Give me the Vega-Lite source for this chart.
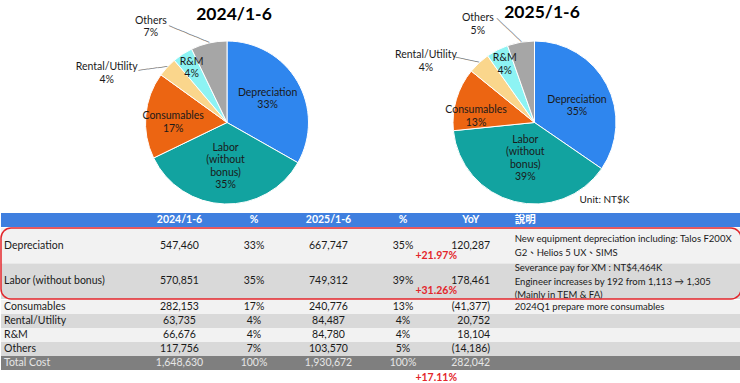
{
  "$schema": "https://vega.github.io/schema/vega-lite/v6.json",
  "padding": {"left": 0, "top": 3, "right": 0, "bottom": 0},
  "config": {"font": "Lato", "view": {"stroke": null}, "axis": {"disable": true}, "concat": {"spacing": 0}},
  "datasets": {
    "costs": [
      {"item": "Depreciation", "v24": 547460, "p24": 0.33, "v25": 667747, "p25": 0.35, "yoy": 120287, "yoyPct": 0.2197, "label24": "Depreciation\n33%", "label25": "Depreciation\n35%", "note": "New equipment depreciation including: Talos F200X\nG2、Helios 5 UX、SIMS"},
      {"item": "Labor (without bonus)", "v24": 570851, "p24": 0.35, "v25": 749312, "p25": 0.39, "yoy": 178461, "yoyPct": 0.3126, "label24": "Labor\n(without\nbonus)\n35%", "label25": "Labor\n(without\nbonus)\n39%", "note": "Severance pay for XM : NT$4,464K\nEngineer increases by 192 from 1,113 → 1,305\n(Mainly in TEM & FA)"},
      {"item": "Consumables", "v24": 282153, "p24": 0.17, "v25": 240776, "p25": 0.13, "yoy": -41377, "yoyPct": null, "label24": "Consumables\n17%", "label25": "Consumables\n13%", "note": "2024Q1 prepare more consumables"},
      {"item": "Rental/Utility", "v24": 63735, "p24": 0.04, "v25": 84487, "p25": 0.04, "yoy": 20752, "yoyPct": null, "label24": "Rental/Utility\n4%", "label25": "Rental/Utility\n4%", "note": ""},
      {"item": "R&M", "v24": 66676, "p24": 0.04, "v25": 84780, "p25": 0.04, "yoy": 18104, "yoyPct": null, "label24": "R&M\n4%", "label25": "R&M\n4%", "note": ""},
      {"item": "Others", "v24": 117756, "p24": 0.07, "v25": 103570, "p25": 0.05, "yoy": -14186, "yoyPct": null, "label24": "Others\n7%", "label25": "Others\n5%", "note": ""},
      {"item": "Total Cost", "v24": 1648630, "p24": 1, "v25": 1930672, "p25": 1, "yoy": 282042, "yoyPct": 0.1711, "label24": "", "label25": "", "note": ""}
    ]
  },
  "spacing": 3,
  "vconcat": [
    {
      "spacing": 0,
      "bounds": "flush",
      "hconcat": [
        {
          "width": 452, "height": 163,
          "title": {"text": "2024/1-6", "fontSize": 17.5, "fontWeight": "bold", "font": "Lato", "color": "#000000", "dx": 7, "offset": -8},
          "layer": [
            {
              "data": {"name": "costs"},
              "transform": [{"window": [{"op": "row_number", "as": "rank"}]}, {"filter": "datum.item !== 'Total Cost'"}],
              "encoding": {
                "theta": {"field": "v24", "type": "quantitative", "stack": true},
                "order": {"field": "rank", "type": "quantitative"},
                "color": {"field": "item", "type": "nominal", "scale": {"domain": ["Depreciation", "Labor (without bonus)", "Consumables", "Rental/Utility", "R&M", "Others"], "range": ["#2F86EE", "#12A3A0", "#EC6512", "#FAD68C", "#8DF3F3", "#A6A6A6"]}, "legend": null}
              },
              "layer": [
                {"mark": {"type": "arc", "stroke": "#ffffff", "strokeWidth": 1}},
                {"mark": {"type": "text", "radius": 47, "dy": -6.25, "fontSize": 10.5, "lineBreak": "\n", "lineHeight": 12.5, "baseline": "middle"},
                 "encoding": {"color": {"condition": {"test": "true", "value": "#1a1a1a"}, "field": "item", "type": "nominal", "legend": null},
                              "text": {"condition": {"test": "datum.item === 'Depreciation'", "field": "label24", "type": "nominal"}, "value": ""}}},
                {"mark": {"type": "text", "radius": 44, "dy": -18.75, "fontSize": 10.5, "lineBreak": "\n", "lineHeight": 12.5, "baseline": "middle"},
                 "encoding": {"color": {"condition": {"test": "true", "value": "#1a1a1a"}, "field": "item", "type": "nominal", "legend": null},
                              "text": {"condition": {"test": "datum.item === 'Labor (without bonus)'", "field": "label24", "type": "nominal"}, "value": ""}}},
                {"mark": {"type": "text", "radius": 54, "dy": -1.5, "fontSize": 10.5, "lineBreak": "\n", "lineHeight": 12.5, "baseline": "middle"},
                 "encoding": {"color": {"condition": {"test": "true", "value": "#1a1a1a"}, "field": "item", "type": "nominal", "legend": null},
                              "text": {"condition": {"test": "datum.item === 'Consumables'", "field": "label24", "type": "nominal"}, "value": ""}}},
                {"mark": {"type": "text", "radius": 65, "dy": -6.25, "fontSize": 10.5, "lineBreak": "\n", "lineHeight": 12.5, "baseline": "middle"},
                 "encoding": {"color": {"condition": {"test": "true", "value": "#1a1a1a"}, "field": "item", "type": "nominal", "legend": null},
                              "text": {"condition": {"test": "datum.item === 'R&M'", "field": "label24", "type": "nominal"}, "value": ""}}},
                {"mark": {"type": "text", "radius": 81.5, "dx": -58, "dy": -22.25, "fontSize": 10.5, "lineBreak": "\n", "lineHeight": 12.5, "baseline": "middle"},
                 "encoding": {"color": {"condition": {"test": "true", "value": "#1a1a1a"}, "field": "item", "type": "nominal", "legend": null},
                              "text": {"condition": {"test": "datum.item === 'Others'", "field": "label24", "type": "nominal"}, "value": ""}}},
                {"mark": {"type": "text", "radius": 81.5, "dx": -60.5, "dy": 0.25, "fontSize": 10.5, "lineBreak": "\n", "lineHeight": 12.5, "baseline": "middle"},
                 "encoding": {"color": {"condition": {"test": "true", "value": "#1a1a1a"}, "field": "item", "type": "nominal", "legend": null},
                              "text": {"condition": {"test": "datum.item === 'Rental/Utility'", "field": "label24", "type": "nominal"}, "value": ""}}},
                {"mark": {"type": "text", "radius": 81.5, "angle": 22.5, "align": "right", "baseline": "middle", "font": "DejaVu Sans", "fontSize": 8},
                 "encoding": {"color": {"condition": {"test": "true", "value": "#808080"}, "field": "item", "type": "nominal", "legend": null},
                              "text": {"condition": {"test": "datum.item === 'Others'", "value": "─────────"}, "value": ""}}},
                {"mark": {"type": "text", "radius": 81.5, "angle": -7.6, "align": "right", "baseline": "middle", "font": "DejaVu Sans", "fontSize": 8},
                 "encoding": {"color": {"condition": {"test": "true", "value": "#808080"}, "field": "item", "type": "nominal", "legend": null},
                              "text": {"condition": {"test": "datum.item === 'Rental/Utility'", "value": "──────"}, "value": ""}}}
              ]
            }
          ]
        },
        {
          "width": 163, "height": 163,
          "title": {"text": "2025/1-6", "fontSize": 17.5, "fontWeight": "bold", "font": "Lato", "color": "#000000", "dx": 7.5, "offset": -8},
          "layer": [
            {
              "data": {"name": "costs"},
              "transform": [{"window": [{"op": "row_number", "as": "rank"}]}, {"filter": "datum.item !== 'Total Cost'"}],
              "encoding": {
                "theta": {"field": "v25", "type": "quantitative", "stack": true},
                "order": {"field": "rank", "type": "quantitative"},
                "color": {"field": "item", "type": "nominal", "scale": {"domain": ["Depreciation", "Labor (without bonus)", "Consumables", "Rental/Utility", "R&M", "Others"], "range": ["#2F86EE", "#12A3A0", "#EC6512", "#FAD68C", "#8DF3F3", "#A6A6A6"]}, "legend": null}
              },
              "layer": [
                {"mark": {"type": "arc", "stroke": "#ffffff", "strokeWidth": 1}},
                {"mark": {"type": "text", "radius": 48, "dy": -0.5, "fontSize": 10.5, "lineBreak": "\n", "lineHeight": 12.5, "baseline": "middle"},
                 "encoding": {"color": {"condition": {"test": "true", "value": "#1a1a1a"}, "field": "item", "type": "nominal", "legend": null},
                              "text": {"condition": {"test": "datum.item === 'Depreciation'", "field": "label25", "type": "nominal"}, "value": ""}}},
                {"mark": {"type": "text", "radius": 37, "dy": -18.75, "fontSize": 10.5, "lineBreak": "\n", "lineHeight": 12.5, "baseline": "middle"},
                 "encoding": {"color": {"condition": {"test": "true", "value": "#1a1a1a"}, "field": "item", "type": "nominal", "legend": null},
                              "text": {"condition": {"test": "datum.item === 'Labor (without bonus)'", "field": "label25", "type": "nominal"}, "value": ""}}},
                {"mark": {"type": "text", "radius": 61, "dy": 5.25, "fontSize": 10.5, "lineBreak": "\n", "lineHeight": 12.5, "baseline": "middle"},
                 "encoding": {"color": {"condition": {"test": "true", "value": "#1a1a1a"}, "field": "item", "type": "nominal", "legend": null},
                              "text": {"condition": {"test": "datum.item === 'Consumables'", "field": "label25", "type": "nominal"}, "value": ""}}},
                {"mark": {"type": "text", "radius": 65, "dy": -6.25, "fontSize": 10.5, "lineBreak": "\n", "lineHeight": 12.5, "baseline": "middle"},
                 "encoding": {"color": {"condition": {"test": "true", "value": "#1a1a1a"}, "field": "item", "type": "nominal", "legend": null},
                              "text": {"condition": {"test": "datum.item === 'R&M'", "field": "label25", "type": "nominal"}, "value": ""}}},
                {"mark": {"type": "text", "radius": 81.5, "dx": -43, "dy": -23.75, "fontSize": 10.5, "lineBreak": "\n", "lineHeight": 12.5, "baseline": "middle"},
                 "encoding": {"color": {"condition": {"test": "true", "value": "#1a1a1a"}, "field": "item", "type": "nominal", "legend": null},
                              "text": {"condition": {"test": "datum.item === 'Others'", "field": "label25", "type": "nominal"}, "value": ""}}},
                {"mark": {"type": "text", "radius": 81.5, "dx": -53, "dy": -7.75, "fontSize": 10.5, "lineBreak": "\n", "lineHeight": 12.5, "baseline": "middle"},
                 "encoding": {"color": {"condition": {"test": "true", "value": "#1a1a1a"}, "field": "item", "type": "nominal", "legend": null},
                              "text": {"condition": {"test": "datum.item === 'Rental/Utility'", "field": "label25", "type": "nominal"}, "value": ""}}},
                {"mark": {"type": "text", "radius": 81.5, "angle": 43.7, "align": "right", "baseline": "middle", "font": "DejaVu Sans", "fontSize": 8},
                 "encoding": {"color": {"condition": {"test": "true", "value": "#808080"}, "field": "item", "type": "nominal", "legend": null},
                              "text": {"condition": {"test": "datum.item === 'Others'", "value": "───────"}, "value": ""}}},
                {"mark": {"type": "text", "radius": 81.5, "angle": 12.3, "align": "right", "baseline": "middle", "font": "DejaVu Sans", "fontSize": 8},
                 "encoding": {"color": {"condition": {"test": "true", "value": "#808080"}, "field": "item", "type": "nominal", "legend": null},
                              "text": {"condition": {"test": "datum.item === 'Rental/Utility'", "value": "─────"}, "value": ""}}}
              ]
            },
            {"data": {"values": [{}]}, "mark": {"type": "text", "text": "Unit: NT$K", "fontSize": 10, "dx": 70, "dy": 77, "fill": "#1a1a1a"}, "encoding": {}}
          ]
        }
      ]
    },
    {
      "spacing": 0,
      "vconcat": [
        {
          "width": 740, "height": 14,
          "data": {"values": [{}]},
          "layer": [
            {"mark": {"type": "rect", "fill": "#3F7FDF"}, "encoding": {}},
            {"mark": {"type": "text", "text": "2024/1-6", "fill": "#ffffff", "fontWeight": "bold", "fontSize": 10.5, "baseline": "middle"},
             "encoding": {"x": {"datum": "2024/1-6", "type": "nominal", "scale": {"type": "band", "domain": ["Item", "2024/1-6", "%24", "2025/1-6", "%25", "YoY", "說明", "說明+"], "paddingInner": 0, "paddingOuter": 0.9665, "align": 0.4635}, "axis": null}}},
            {"mark": {"type": "text", "text": "%", "fill": "#ffffff", "fontWeight": "bold", "fontSize": 10.5, "baseline": "middle"},
             "encoding": {"x": {"datum": "%24", "type": "nominal", "scale": {"type": "band", "domain": ["Item", "2024/1-6", "%24", "2025/1-6", "%25", "YoY", "說明", "說明+"], "paddingInner": 0, "paddingOuter": 0.9665, "align": 0.4635}, "axis": null}}},
            {"mark": {"type": "text", "text": "2025/1-6", "fill": "#ffffff", "fontWeight": "bold", "fontSize": 10.5, "baseline": "middle"},
             "encoding": {"x": {"datum": "2025/1-6", "type": "nominal", "scale": {"type": "band", "domain": ["Item", "2024/1-6", "%24", "2025/1-6", "%25", "YoY", "說明", "說明+"], "paddingInner": 0, "paddingOuter": 0.9665, "align": 0.4635}, "axis": null}}},
            {"mark": {"type": "text", "text": "%", "fill": "#ffffff", "fontWeight": "bold", "fontSize": 10.5, "baseline": "middle"},
             "encoding": {"x": {"datum": "%25", "type": "nominal", "scale": {"type": "band", "domain": ["Item", "2024/1-6", "%24", "2025/1-6", "%25", "YoY", "說明", "說明+"], "paddingInner": 0, "paddingOuter": 0.9665, "align": 0.4635}, "axis": null}}},
            {"mark": {"type": "text", "text": "YoY", "fill": "#ffffff", "fontWeight": "bold", "fontSize": 10.5, "baseline": "middle"},
             "encoding": {"x": {"datum": "YoY", "type": "nominal", "bandPosition": 0.41, "scale": {"type": "band", "domain": ["Item", "2024/1-6", "%24", "2025/1-6", "%25", "YoY", "說明", "說明+"], "paddingInner": 0, "paddingOuter": 0.9665, "align": 0.4635}, "axis": null}}},
            {"mark": {"type": "text", "text": "說明", "fill": "#ffffff", "fontWeight": "bold", "fontSize": 10.5, "baseline": "middle", "align": "left", "font": "Noto Sans CJK TC"},
             "encoding": {"x": {"datum": "說明", "type": "nominal", "bandPosition": 0, "scale": {"type": "band", "domain": ["Item", "2024/1-6", "%24", "2025/1-6", "%25", "YoY", "說明", "說明+"], "paddingInner": 0, "paddingOuter": 0.9665, "align": 0.4635}, "axis": null}}}
          ]
        },
        {
          "width": 740, "height": 71,
          "layer": [
            {
              "data": {"name": "costs"},
              "transform": [{"filter": {"field": "item", "oneOf": ["Depreciation", "Labor (without bonus)"]}}],
              "encoding": {"y": {"field": "item", "type": "nominal", "scale": {"type": "band", "domain": ["Depreciation", "Labor (without bonus)"], "paddingInner": 0, "paddingOuter": 0}, "axis": null}},
              "layer": [
                {"mark": "rect", "encoding": {"color": {"condition": {"test": "datum.item === 'Labor (without bonus)'", "value": "#D9D9D9"}, "value": "#F2F2F2"}}},
                {"mark": {"type": "text", "align": "left", "baseline": "middle", "fontSize": 10.5, "fill": "#1a1a1a"},
                 "encoding": {"x": {"datum": "Item", "type": "nominal", "bandPosition": -0.855, "scale": {"type": "band", "domain": ["Item", "2024/1-6", "%24", "2025/1-6", "%25", "YoY", "說明", "說明+"], "paddingInner": 0, "paddingOuter": 0.9665, "align": 0.4635}, "axis": null}, "text": {"field": "item", "type": "nominal"}}},
                {"mark": {"type": "text", "baseline": "middle", "fontSize": 10.5, "fill": "#1a1a1a"},
                 "encoding": {"x": {"datum": "2024/1-6", "type": "nominal", "scale": {"type": "band", "domain": ["Item", "2024/1-6", "%24", "2025/1-6", "%25", "YoY", "說明", "說明+"], "paddingInner": 0, "paddingOuter": 0.9665, "align": 0.4635}, "axis": null}, "text": {"field": "v24", "type": "quantitative", "format": ","}}},
                {"mark": {"type": "text", "baseline": "middle", "fontSize": 10.5, "fill": "#1a1a1a"},
                 "encoding": {"x": {"datum": "%24", "type": "nominal", "scale": {"type": "band", "domain": ["Item", "2024/1-6", "%24", "2025/1-6", "%25", "YoY", "說明", "說明+"], "paddingInner": 0, "paddingOuter": 0.9665, "align": 0.4635}, "axis": null}, "text": {"field": "p24", "type": "quantitative", "format": ".0%"}}},
                {"mark": {"type": "text", "baseline": "middle", "fontSize": 10.5, "fill": "#1a1a1a"},
                 "encoding": {"x": {"datum": "2025/1-6", "type": "nominal", "scale": {"type": "band", "domain": ["Item", "2024/1-6", "%24", "2025/1-6", "%25", "YoY", "說明", "說明+"], "paddingInner": 0, "paddingOuter": 0.9665, "align": 0.4635}, "axis": null}, "text": {"field": "v25", "type": "quantitative", "format": ","}}},
                {"mark": {"type": "text", "baseline": "middle", "fontSize": 10.5, "fill": "#1a1a1a"},
                 "encoding": {"x": {"datum": "%25", "type": "nominal", "scale": {"type": "band", "domain": ["Item", "2024/1-6", "%24", "2025/1-6", "%25", "YoY", "說明", "說明+"], "paddingInner": 0, "paddingOuter": 0.9665, "align": 0.4635}, "axis": null}, "text": {"field": "p25", "type": "quantitative", "format": ".0%"}}},
                {"mark": {"type": "text", "align": "right", "baseline": "middle", "fontSize": 10.5, "fill": "#1a1a1a"},
                 "encoding": {"x": {"datum": "YoY", "type": "nominal", "bandPosition": 0.67, "scale": {"type": "band", "domain": ["Item", "2024/1-6", "%24", "2025/1-6", "%25", "YoY", "說明", "說明+"], "paddingInner": 0, "paddingOuter": 0.9665, "align": 0.4635}, "axis": null}, "text": {"field": "yoy", "type": "quantitative", "format": "(,"}}},
                {"mark": {"type": "text", "align": "right", "baseline": "middle", "fontSize": 10.5, "fontWeight": "bold", "fill": "#E3262B"},
                 "encoding": {"x": {"datum": "YoY", "type": "nominal", "bandPosition": 0.225, "scale": {"type": "band", "domain": ["Item", "2024/1-6", "%24", "2025/1-6", "%25", "YoY", "說明", "說明+"], "paddingInner": 0, "paddingOuter": 0.9665, "align": 0.4635}, "axis": null},
                              "y": {"field": "item", "type": "nominal", "bandPosition": 0.78},
                              "text": {"field": "yoyPct", "type": "quantitative", "format": "+.2%"}}},
                {"transform": [{"filter": "datum.item === 'Depreciation'"}],
                 "mark": {"type": "text", "align": "left", "baseline": "middle", "fontSize": 9.5, "lineBreak": "\n", "lineHeight": 13.5, "fill": "#1a1a1a", "font": "Lato, Noto Sans CJK TC"},
                 "encoding": {"x": {"datum": "說明", "type": "nominal", "bandPosition": 0, "scale": {"type": "band", "domain": ["Item", "2024/1-6", "%24", "2025/1-6", "%25", "YoY", "說明", "說明+"], "paddingInner": 0, "paddingOuter": 0.9665, "align": 0.4635}, "axis": null},
                              "y": {"field": "item", "type": "nominal", "bandPosition": 0.31},
                              "text": {"field": "note", "type": "nominal"}}},
                {"transform": [{"filter": "datum.item === 'Labor (without bonus)'"}],
                 "mark": {"type": "text", "align": "left", "baseline": "middle", "fontSize": 9.5, "lineBreak": "\n", "lineHeight": 13.5, "fill": "#1a1a1a", "font": "Lato, Noto Sans CJK TC"},
                 "encoding": {"x": {"datum": "說明", "type": "nominal", "bandPosition": 0, "scale": {"type": "band", "domain": ["Item", "2024/1-6", "%24", "2025/1-6", "%25", "YoY", "說明", "說明+"], "paddingInner": 0, "paddingOuter": 0.9665, "align": 0.4635}, "axis": null},
                              "y": {"field": "item", "type": "nominal", "bandPosition": 0.13},
                              "text": {"field": "note", "type": "nominal"}}}
              ]
            },
            {"data": {"values": [{}]}, "mark": {"type": "rect", "fillOpacity": 0, "stroke": "#E3262B", "strokeWidth": 1.5, "cornerRadius": 10}, "encoding": {}}
          ]
        },
        {
          "width": 740, "height": 70,
          "data": {"name": "costs"},
          "transform": [{"filter": {"field": "item", "oneOf": ["Consumables", "Rental/Utility", "R&M", "Others", "Total Cost"]}}],
          "encoding": {"y": {"field": "item", "type": "nominal", "scale": {"type": "band", "domain": ["Consumables", "Rental/Utility", "R&M", "Others", "Total Cost"], "paddingInner": 0, "paddingOuter": 0}, "axis": null}},
          "layer": [
            {"mark": "rect", "encoding": {"color": {"condition": [{"test": "datum.item === 'Total Cost'", "value": "#7F7F7F"}, {"test": "datum.item === 'Rental/Utility' || datum.item === 'Others'", "value": "#D9D9D9"}], "value": "#F2F2F2"}}},
            {"mark": {"type": "text", "align": "left", "baseline": "middle", "fontSize": 10.5},
             "encoding": {"x": {"datum": "Item", "type": "nominal", "bandPosition": -0.855, "scale": {"type": "band", "domain": ["Item", "2024/1-6", "%24", "2025/1-6", "%25", "YoY", "說明", "說明+"], "paddingInner": 0, "paddingOuter": 0.9665, "align": 0.4635}, "axis": null}, "text": {"field": "item", "type": "nominal"},
                          "color": {"condition": {"test": "datum.item === 'Total Cost'", "value": "#E6E6E6"}, "value": "#1a1a1a"}}},
            {"mark": {"type": "text", "baseline": "middle", "fontSize": 10.5},
             "encoding": {"x": {"datum": "2024/1-6", "type": "nominal", "scale": {"type": "band", "domain": ["Item", "2024/1-6", "%24", "2025/1-6", "%25", "YoY", "說明", "說明+"], "paddingInner": 0, "paddingOuter": 0.9665, "align": 0.4635}, "axis": null}, "text": {"field": "v24", "type": "quantitative", "format": ","},
                          "color": {"condition": {"test": "datum.item === 'Total Cost'", "value": "#E6E6E6"}, "value": "#1a1a1a"}}},
            {"mark": {"type": "text", "baseline": "middle", "fontSize": 10.5},
             "encoding": {"x": {"datum": "%24", "type": "nominal", "scale": {"type": "band", "domain": ["Item", "2024/1-6", "%24", "2025/1-6", "%25", "YoY", "說明", "說明+"], "paddingInner": 0, "paddingOuter": 0.9665, "align": 0.4635}, "axis": null}, "text": {"field": "p24", "type": "quantitative", "format": ".0%"},
                          "color": {"condition": {"test": "datum.item === 'Total Cost'", "value": "#E6E6E6"}, "value": "#1a1a1a"}}},
            {"mark": {"type": "text", "baseline": "middle", "fontSize": 10.5},
             "encoding": {"x": {"datum": "2025/1-6", "type": "nominal", "scale": {"type": "band", "domain": ["Item", "2024/1-6", "%24", "2025/1-6", "%25", "YoY", "說明", "說明+"], "paddingInner": 0, "paddingOuter": 0.9665, "align": 0.4635}, "axis": null}, "text": {"field": "v25", "type": "quantitative", "format": ","},
                          "color": {"condition": {"test": "datum.item === 'Total Cost'", "value": "#E6E6E6"}, "value": "#1a1a1a"}}},
            {"mark": {"type": "text", "baseline": "middle", "fontSize": 10.5},
             "encoding": {"x": {"datum": "%25", "type": "nominal", "scale": {"type": "band", "domain": ["Item", "2024/1-6", "%24", "2025/1-6", "%25", "YoY", "說明", "說明+"], "paddingInner": 0, "paddingOuter": 0.9665, "align": 0.4635}, "axis": null}, "text": {"field": "p25", "type": "quantitative", "format": ".0%"},
                          "color": {"condition": {"test": "datum.item === 'Total Cost'", "value": "#E6E6E6"}, "value": "#1a1a1a"}}},
            {"mark": {"type": "text", "align": "right", "baseline": "middle", "fontSize": 10.5},
             "encoding": {"x": {"datum": "YoY", "type": "nominal", "bandPosition": 0.67, "scale": {"type": "band", "domain": ["Item", "2024/1-6", "%24", "2025/1-6", "%25", "YoY", "說明", "說明+"], "paddingInner": 0, "paddingOuter": 0.9665, "align": 0.4635}, "axis": null}, "text": {"field": "yoy", "type": "quantitative", "format": "(,"},
                          "color": {"condition": {"test": "datum.item === 'Total Cost'", "value": "#E6E6E6"}, "value": "#1a1a1a"}}},
            {"transform": [{"filter": "isValid(datum.yoyPct)"}],
             "mark": {"type": "text", "align": "right", "baseline": "middle", "fontSize": 10.5, "fontWeight": "bold", "fill": "#E3262B", "dy": 15},
             "encoding": {"x": {"datum": "YoY", "type": "nominal", "bandPosition": 0.225, "scale": {"type": "band", "domain": ["Item", "2024/1-6", "%24", "2025/1-6", "%25", "YoY", "說明", "說明+"], "paddingInner": 0, "paddingOuter": 0.9665, "align": 0.4635}, "axis": null}, "text": {"field": "yoyPct", "type": "quantitative", "format": "+.2%"}}},
            {"mark": {"type": "text", "align": "left", "baseline": "middle", "fontSize": 9.5, "fill": "#1a1a1a", "font": "Lato, Noto Sans CJK TC"},
             "encoding": {"x": {"datum": "說明", "type": "nominal", "bandPosition": 0, "scale": {"type": "band", "domain": ["Item", "2024/1-6", "%24", "2025/1-6", "%25", "YoY", "說明", "說明+"], "paddingInner": 0, "paddingOuter": 0.9665, "align": 0.4635}, "axis": null}, "text": {"field": "note", "type": "nominal"}}}
          ]
        }
      ]
    }
  ]
}
